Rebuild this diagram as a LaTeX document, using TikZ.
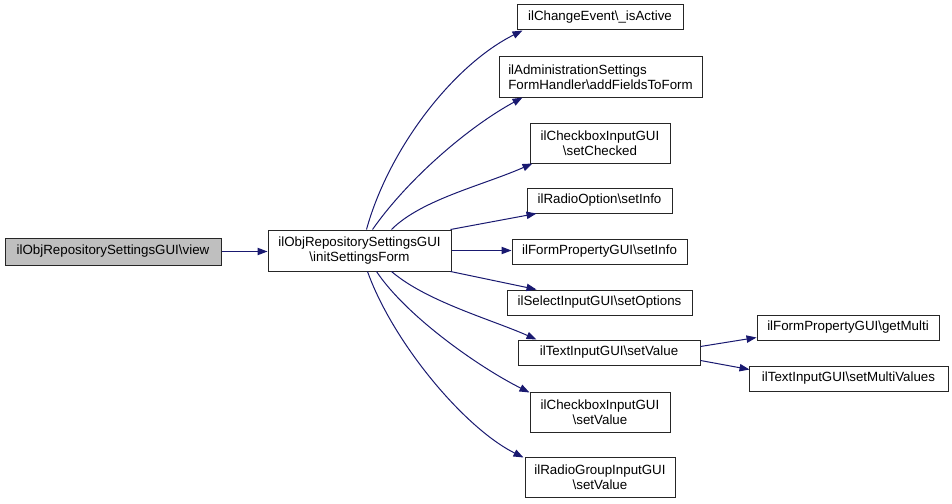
\documentclass[tikz,border=0pt]{standalone}
\usepackage{fontspec}
\setmainfont{Liberation Sans}
\usetikzlibrary{calc,arrows.meta}
\definecolor{edgecol}{HTML}{191970}
\definecolor{curfill}{HTML}{BFBFBF}
\tikzset{
  box/.style={draw=black!85, line width=0.75pt, fill=white, inner sep=0pt, align=center,
    font=\fontsize{10}{11.2}\selectfont},
  call/.style={draw=edgecol, line width=0.75pt, -{Triangle[length=7.5pt,width=5.5pt]}, color=edgecol}
}
\begin{document}
\begin{tikzpicture}[x=0.75pt,y=-0.75pt]
\useasboundingbox (0,0) rectangle (952,503);
\node[box, fill=curfill, minimum width=162pt, minimum height=20.25pt] (view) at (113,251.5) {ilObjRepositorySettingsGUI\textbackslash view};
\node[box, minimum width=137.25pt, minimum height=30.75pt] (init) at (359.5,250.5) {ilObjRepositorySettingsGUI\\\textbackslash initSettingsForm};
\node[box, minimum width=124.5pt, minimum height=18.75pt] (n1) at (600,17.5) {ilChangeEvent\textbackslash\_isActive};
\node[box, align=left, minimum width=152.25pt, minimum height=30pt] (n2) at (600.5,77) {ilAdministrationSettings\\FormHandler\textbackslash addFieldsToForm};
\node[box, minimum width=105pt, minimum height=30pt] (n3) at (600,143) {ilCheckboxInputGUI\\\textbackslash setChecked};
\node[box, minimum width=108.75pt, minimum height=18.75pt] (n4) at (599.5,200.5) {ilRadioOption\textbackslash setInfo};
\node[box, minimum width=131.25pt, minimum height=18.75pt] (n5) at (599.5,251.5) {ilFormPropertyGUI\textbackslash setInfo};
\node[box, minimum width=138.75pt, minimum height=18.75pt] (n6) at (599.5,302.5) {ilSelectInputGUI\textbackslash setOptions};
\node[box, minimum width=136.5pt, minimum height=18.75pt] (n7) at (609,352.5) {ilTextInputGUI\textbackslash setValue};
\node[box, minimum width=105pt, minimum height=30pt] (n8) at (600,412) {ilCheckboxInputGUI\\\textbackslash setValue};
\node[box, minimum width=112.5pt, minimum height=30pt] (n9) at (600,477) {ilRadioGroupInputGUI\\\textbackslash setValue};
\node[box, minimum width=136.5pt, minimum height=18.75pt] (n10) at (848,327.5) {ilFormPropertyGUI\textbackslash getMulti};
\node[box, minimum width=149.25pt, minimum height=18.75pt] (n11) at (848.5,378.5) {ilTextInputGUI\textbackslash setMultiValues};

\draw[call] (view.east) -- (view.east -| init.west);
\draw[call] ($(init.north west)+(99,0)$) .. controls +(22,-80) and +(-70,35) .. ($(n1.south west)+(6,0)$);
\draw[call] ($(init.north west)+(105,0)$) .. controls +(35,-50) and +(-55,30) .. ($(n2.south west)+(24,0)$);
\draw[call] ($(init.north west)+(124,0)$) .. controls +(30,-30) and +(-50,22) .. ($(n3.south west)+(3,0)$);
\draw[call] ($(init.north east)+(-1,0)$) -- ($(n4.south west)+(10,0)$);
\draw[call] (init.east) -- (init.east -| n5.west);
\draw[call] ($(init.south east)+(-1,0)$) -- ($(n6.north west)+(30,0)$);
\draw[call] ($(init.south west)+(124,0)$) .. controls +(35,30) and +(-45,-20) .. ($(n7.north west)+(19,0)$);
\draw[call] ($(init.south west)+(109,0)$) .. controls +(30,45) and +(-50,-25) .. ($(n8.north west)+(0,1)$);
\draw[call] ($(init.south west)+(100,0)$) .. controls +(25,70) and +(-60,-30) .. ($(n9.north west)+(-1,1)$);
\draw[call] ($(n7.east)+(0,-6)$) -- ($(n10.west)+(0,10)$);
\draw[call] ($(n7.east)+(0,8)$) -- ($(n11.west)+(1,-9)$);
\end{tikzpicture}
\end{document}
